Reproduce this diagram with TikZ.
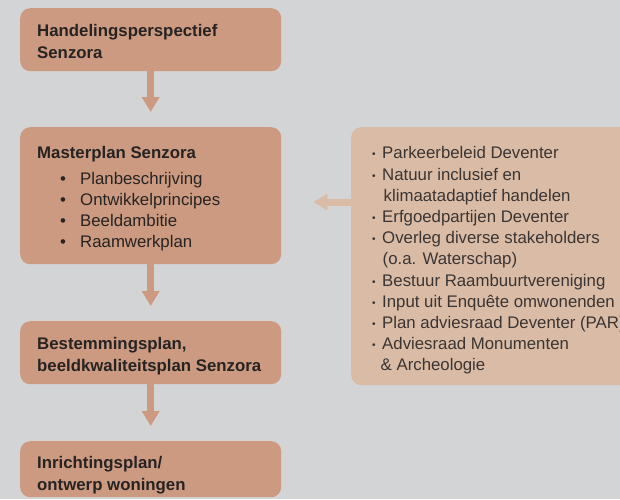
\documentclass[tikz,border=0pt]{standalone}
\usepackage{fontspec}
\setmainfont{Liberation Sans}
\usetikzlibrary{arrows.meta}
\definecolor{bg}{HTML}{D3D4D6}
\definecolor{boxA}{HTML}{CB9A81}
\definecolor{boxB}{HTML}{DABCA6}
\definecolor{txt}{HTML}{272322}
\definecolor{txtl}{HTML}{3A3433}
\newcommand{\rbul}{\makebox[11.5pt][l]{\hspace*{1.5pt}\raisebox{1pt}{\scalebox{0.6}{\textbullet}}}}
\begin{document}
\begin{tikzpicture}[x=1pt,y=-1pt,
  stagebox/.style={fill=boxA, draw=none, rounded corners=10pt, anchor=north west, minimum width=261pt, inner sep=0pt},
  inputbox/.style={fill=boxB, draw=none, rounded corners=10pt, anchor=north west, minimum width=300pt, minimum height=258pt, inner sep=0pt},
  boxtext/.style={anchor=north west, inner sep=0pt, align=left, text=txt},
  flow/.style={draw=boxA, line width=7.5pt, -{Triangle[width=17pt,length=15pt]}, shorten >=15pt},
  inflow/.style={draw=boxB, line width=7pt, -{Triangle[width=16pt,length=14pt]}, shorten >=32pt},
]
\fill[bg] (0,0) rectangle (620,499);
\clip (0,0) rectangle (620,499);

\node[stagebox, minimum height=63pt] (b1) at (20,8) {};
\node[stagebox, minimum height=137pt] (b2) at (20,127) {};
\node[stagebox, minimum height=63pt] (b3) at (20,321) {};
\node[stagebox, minimum height=56pt] (b4) at (20,441) {};
\node[inputbox] (rb) at (351,127) {};

\draw[flow] (b1.south) -- (b2.north);
\draw[flow] (b2.south) -- (b3.north);
\draw[flow] (b3.south) -- (b4.north);
\coordinate (la) at (351,202);
\draw[inflow] (la) -- (la -| b2.east);

\node[boxtext, font=\fontsize{16.8}{22}\selectfont\bfseries] (t1) at (37,24)
  {Handelingsperspectief\\Senzora};
\node[boxtext, font=\fontsize{16.8}{21}\selectfont] (t2) at (37,146)
  {\textbf{Masterplan Senzora}\\[5pt]
   \makebox[43pt][l]{\hspace*{23pt}\textbullet}Planbeschrijving\\
   \makebox[43pt][l]{\hspace*{23pt}\textbullet}Ontwikkelprincipes\\
   \makebox[43pt][l]{\hspace*{23pt}\textbullet}Beeldambitie\\
   \makebox[43pt][l]{\hspace*{23pt}\textbullet}Raamwerkplan};
\node[boxtext, font=\fontsize{16.8}{22}\selectfont\bfseries] (t3) at (37,337)
  {Bestemmingsplan,\\beeldkwaliteitsplan Senzora};
\node[boxtext, font=\fontsize{16.8}{22}\selectfont\bfseries] (t4) at (37,456)
  {Inrichtingsplan/\\ontwerp woningen};
\node[boxtext, text=txtl, font=\fontsize{16.8}{21.2}\selectfont] (tr) at (370.5,146.5)
  {\rbul Parkeerbeleid Deventer\\
   \rbul Natuur inclusief en\\
   \hspace*{13pt}klimaatadaptief handelen\\
   \rbul Erfgoedpartijen Deventer\\
   \rbul Overleg diverse stakeholders\\
   \hspace*{12pt}(o.a. Waterschap)\\
   \rbul Bestuur Raambuurtvereniging\\
   \rbul Input uit Enquête omwonenden\\
   \rbul Plan adviesraad Deventer (PAR)\\
   \rbul Adviesraad Monumenten\\
   \hspace*{10pt}\& Archeologie};
\end{tikzpicture}
\end{document}
